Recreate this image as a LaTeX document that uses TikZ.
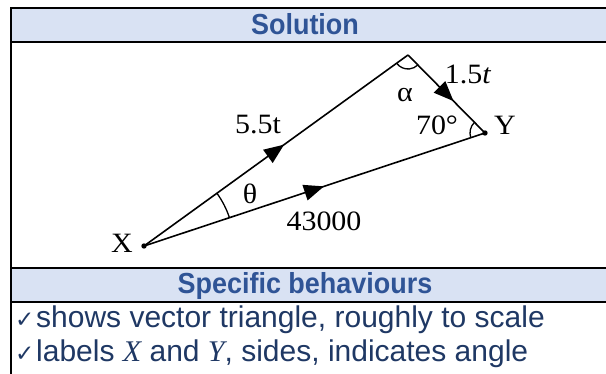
\documentclass[tikz,border=0pt]{standalone}
\usepackage{fontspec}
\setmainfont{Liberation Sans}
\newfontfamily\hfont[FakeStretch=0.93]{Liberation Sans}
\newfontfamily\dfont[FakeStretch=1.07]{Liberation Serif}
\newfontfamily\mfont{Liberation Serif}
\newfontfamily\symfont{DejaVu Sans}
\usetikzlibrary{arrows.meta,decorations.markings,angles}
\definecolor{hdrfill}{HTML}{D9E2F3}
\definecolor{hdrtext}{HTML}{2F5496}
\definecolor{bodytext}{HTML}{1F3864}
\begin{document}
\begin{tikzpicture}[x=1pt,y=-1pt,
  rule/.style={line width=2pt},
  hdr/.style={font=\hfont\fontsize{29}{32}\selectfont\bfseries, text=hdrtext, anchor=base, inner sep=0pt},
  body/.style={font=\fontsize{30}{33}\selectfont, text=bodytext, anchor=base west, inner sep=0pt},
  chk/.style={font=\symfont\fontsize{23}{26}\selectfont, text=bodytext, anchor=base west, inner sep=0pt},
  lbl/.style={font=\dfont\fontsize{28}{30}\selectfont, inner sep=0pt},
  vec/.style={line width=1.6pt, postaction={decorate},
    decoration={markings, mark=at position 0.5 with {\arrow[xshift=10pt]{Triangle[length=20pt,width=16pt]}}}},
  angarc/.style={draw, line width=1.3pt},
]
\useasboundingbox (0,0) rectangle (606,374);
% table
\fill[hdrfill] (12,8.5) rectangle (606,41.5);
\fill[hdrfill] (12,269) rectangle (606,301);
\draw[rule] (10,7.8) -- (606,7.8);
\draw[rule] (11,7.8) -- (11,374);
\draw[rule] (10,42.3) -- (606,42.3);
\draw[rule] (10,268) -- (606,268);
\draw[rule] (10,302) -- (606,302);
\node[hdr] (h1) at (305,34.5) {Solution};
\node[hdr] (h2) at (305,294) {Specific behaviours};
\node[chk] (c1) at (15,328) {✓};
\node[body] (b1) at (36,328) {shows vector triangle, roughly to scale};
\node[chk] (c2) at (15,362) {✓};
\node[body] (b2) at (36,362) {labels {\mfont\itshape X} and {\mfont\itshape Y}, sides, indicates angle};
% triangle
\coordinate (X) at (144,246);
\coordinate (T) at (408,55);
\coordinate (Y) at (485,133);
\draw[vec] (X) -- (T);
\draw[vec] (T) -- (Y);
\draw[vec] (X) -- (Y);
\fill (X) circle (2.7pt);
\fill (Y) circle (2.7pt);
\pic[angarc, angle radius=90pt] {angle = Y--X--T};
\pic[angarc, angle radius=14pt] {angle = X--T--Y};
\pic[angarc, angle radius=15pt] {angle = T--Y--X};
% labels
\node[lbl] (lx) at (122,243) {X};
\node[lbl] (ly) at (505,125) {Y};
\node[lbl] (l70) at (437,125) {70°};
\node[lbl] (l15) at (468,74) {1.5\textit{t}};
\node[lbl] (l55) at (258,125) {5.5t};
\node[lbl] (lth) at (250,194) {θ};
\node[lbl] (lal) at (405,95) {α};
\node[lbl] (l43) at (324,221) {43000};
\end{tikzpicture}
\end{document}
